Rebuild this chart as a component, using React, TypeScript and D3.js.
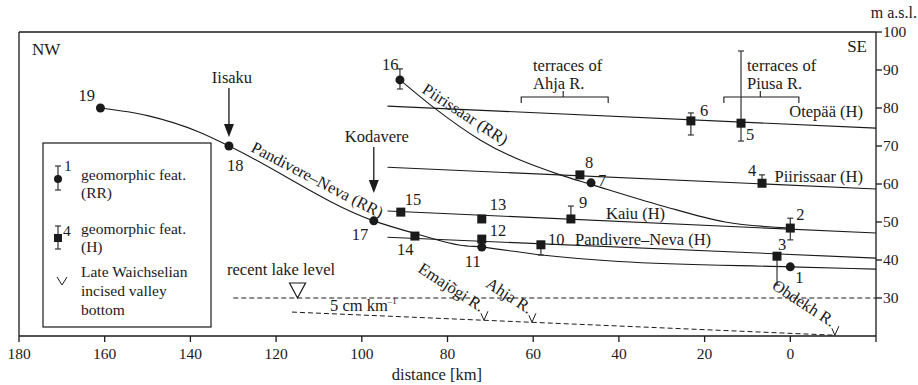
import React from "react";
import { scaleLinear, line, curveMonotoneX } from "d3";

// relict river profiles (RR): circles
const rrIds = [19, 18, 17, 16, 11, 7, 1];
const rrKm = [161, 131, 97.2, 91.1, 72, 46.5, 0];
const rrAlt = [80, 70, 50.3, 87.4, 43.4, 60.3, 38.2];
const rrErr: ([number, number] | null)[] = [null, null, null, [85, 90.3], null, null, null];

// shorelines (H): squares
const hIds = [15, 14, 13, 12, 10, 9, 8, 6, 5, 4, 3, 2];
const hKm = [90.9, 87.6, 72, 72, 58.2, 51.2, 49.1, 23.2, 11.5, 6.6, 3.1, 0];
const hAlt = [52.6, 46.3, 50.8, 45.5, 44, 50.8, 62.4, 76.6, 76, 60.2, 41, 48.4];
const hErr: ([number, number] | null)[] = [
  null, null, null, null, [41.3, 44], [50.8, 54.2], null,
  [72.9, 78.7], [71.3, 95], [60.2, 62.4], [33.4, 41], [45.3, 51],
];

// straight shoreline lines, from 94 km to -20 km
const hLineNames = ["Otepää (H)", "Piirissaar (H)", "Kaiu (H)", "Pandivere–Neva (H)"];
const hLineStart = [80.5, 64.4, 52.9, 46];
const hLineEnd = [74.7, 58.7, 47.1, 40.5];

// RR curves
const pnRR: [number, number][] = [
  [161, 80], [150, 78], [138, 73.7], [131, 70], [97.2, 50.3], [87, 46.8],
  [77, 43.9], [72, 43.4], [58, 41.3], [40, 39.6], [0, 38.2], [-20, 37.6],
];
const piRR: [number, number][] = [
  [91.1, 87.4], [83.4, 80.3], [72.4, 71.6], [53.7, 62.4], [46.5, 59.9],
  [30, 54.3], [15.2, 50], [0, 48.4],
];

const lakeLevel = 30;
const lakeFrom = 130;
const valley: [number, number][] = [[116.3, 26.3], [-10.4, 20.2]];
const rivers = ["Emajõgi R.", "Ahja R.", "Obdekh R."];
const riverKm = [71.5, 60.3, -10.4];

const xTicks = [180, 160, 140, 120, 100, 80, 60, 40, 20, 0];
const yTicks = [30, 40, 50, 60, 70, 80, 90, 100];

const W = 918;
const H = 385;
const x = scaleLinear().domain([180, -20]).range([19, 876]);
const y = scaleLinear().domain([20, 100]).range([336, 32]);

const ink = "#1a1a1a";
const fs = 16.5;
const lfs = 15.5;

// number label offsets (px) relative to the marker
const labelOff: Record<number, [number, number]> = {
  19: [-22, -7], 18: [-2, 25], 17: [-22, 19], 16: [-18, -10], 11: [-17, 20],
  7: [7, 3], 1: [5, 16], 15: [4, -7], 14: [-18, 19], 13: [8, -9], 12: [8, -3],
  10: [7, 0], 9: [8, -11], 8: [5, -7], 6: [9, -5], 5: [5, 17], 4: [-14, -7],
  3: [1, -6], 2: [6, -8],
};

function valleyAt(km: number) {
  const [a, b] = valley;
  return a[1] + ((km - a[0]) * (b[1] - a[1])) / (b[0] - a[0]);
}

function ErrBar({ cx, lo, hi }: { cx: number; lo: number; hi: number }) {
  return (
    <g stroke="#333" strokeWidth={1.2}>
      <line x1={cx} x2={cx} y1={y(lo)} y2={y(hi)} />
      <line x1={cx - 3} x2={cx + 3} y1={y(lo)} y2={y(lo)} />
      <line x1={cx - 3} x2={cx + 3} y1={y(hi)} y2={y(hi)} />
    </g>
  );
}

function Arrow({ px, y1, y2 }: { px: number; y1: number; y2: number }) {
  return (
    <g>
      <line x1={px} x2={px} y1={y1} y2={y2 - 10} stroke={ink} strokeWidth={1.3} />
      <path d={`M${px - 5},${y2 - 13} L${px + 5},${y2 - 13} L${px},${y2} Z`} fill={ink} />
    </g>
  );
}

export default function App() {
  const curve = line<[number, number]>()
    .x((d) => x(d[0]))
    .y((d) => y(d[1]))
    .curve(curveMonotoneX);

  const brackets = [
    { a: 62.8, b: 42.5, mid: 53, tx: 533, l1: "terraces of", l2: "Ahja R." },
    { a: 15.5, b: -2, mid: 7, tx: 747, l1: "terraces of", l2: "Piusa R." },
  ];

  return (
    <svg
      width={W}
      height={H}
      style={{ position: "absolute", left: 0, top: 0, background: "#fff" }}
      fill={ink}
    >
      <style>{`text { font-family: "Liberation Serif", "Times New Roman", serif; }`}</style>
      {/* frame and axes */}
      <g stroke={ink} strokeWidth={1.3} fill="none">
        <line x1={x(180)} x2={x(-20)} y1={y(100)} y2={y(100)} />
        <line x1={x(180)} x2={x(180)} y1={y(100)} y2={y(20)} />
        <line x1={x(180)} x2={x(-20)} y1={y(20)} y2={y(20)} />
        <line x1={x(-20)} x2={x(-20)} y1={y(100)} y2={y(20) + 6} />
        {xTicks.map((t) => (
          <line key={t} x1={x(t)} x2={x(t)} y1={y(20)} y2={y(20) + 6} />
        ))}
        {yTicks.map((t) => (
          <line key={t} x1={x(-20)} x2={x(-20) + 6} y1={y(t)} y2={y(t)} />
        ))}
      </g>
      {xTicks.map((t) => (
        <text key={t} x={x(t)} y={359} fontSize={15.5} textAnchor="middle">
          {t}
        </text>
      ))}
      {yTicks.map((t) => (
        <text key={t} x={x(-20) + 7} y={y(t) + 5} fontSize={15.5}>
          {t}
        </text>
      ))}
      <text x={437} y={380} fontSize={fs} textAnchor="middle">distance [km]</text>
      <text x={917} y={18} fontSize={16} textAnchor="end">m a.s.l.</text>
      <text x={32} y={55} fontSize={17}>NW</text>
      <text x={867} y={52} fontSize={17} textAnchor="end">SE</text>

      {/* shoreline lines */}
      {hLineNames.map((n, i) => (
        <line
          key={n}
          x1={x(94)}
          x2={x(-20)}
          y1={y(hLineStart[i])}
          y2={y(hLineEnd[i])}
          stroke={ink}
          strokeWidth={1.1}
        />
      ))}
      <text x={863} y={117} fontSize={fs} textAnchor="end">Otepää (H)</text>
      <text x={863} y={182} fontSize={fs} textAnchor="end">Piirissaar (H)</text>
      <text x={606} y={219} fontSize={fs}>Kaiu (H)</text>
      <text x={575} y={245} fontSize={fs}>Pandivere–Neva (H)</text>

      {/* RR curves */}
      <path d={curve(pnRR) || ""} fill="none" stroke={ink} strokeWidth={1.1} />
      <path d={curve(piRR) || ""} fill="none" stroke={ink} strokeWidth={1.1} />
      <text fontSize={fs} transform={`translate(250,151) rotate(27.5)`}>
        Pandivere–Neva (RR)
      </text>
      <text fontSize={fs} transform={`translate(421,92) rotate(33)`}>
        Piirissaar (RR)
      </text>

      {/* lake level and valley bottom */}
      <line
        x1={x(lakeFrom)}
        x2={x(-20)}
        y1={y(lakeLevel)}
        y2={y(lakeLevel)}
        stroke={ink}
        strokeWidth={1}
        strokeDasharray="5,3"
      />
      <path
        d={`M${x(115) - 8},${y(lakeLevel) - 15} L${x(115) + 8},${y(lakeLevel) - 15} L${x(115)},${y(lakeLevel)} Z`}
        fill="none"
        stroke={ink}
        strokeWidth={1.2}
      />
      <text x={227} y={275} fontSize={fs}>recent lake level</text>
      <line
        x1={x(valley[0][0])}
        x2={x(valley[1][0])}
        y1={y(valley[0][1])}
        y2={y(valley[1][1])}
        stroke={ink}
        strokeWidth={1}
        strokeDasharray="5,3"
      />
      <text x={330} y={311} fontSize={fs}>
        5 cm km
        <tspan fontSize={9} dy={-7}>–1</tspan>
      </text>
      {rivers.map((r, i) => {
        const tx = x(riverKm[i]);
        const ty = y(valleyAt(riverKm[i]));
        return (
          <g key={r}>
            <path
              d={`M${tx - 3},${ty - 7} L${tx},${ty} L${tx + 4},${ty - 9}`}
              fill="none"
              stroke={ink}
              strokeWidth={1}
            />
            <text
              fontSize={fs}
              textAnchor="end"
              transform={`translate(${tx - 4},${ty - 8}) rotate(33)`}
            >
              {r}
            </text>
          </g>
        );
      })}

      {/* brackets */}
      {brackets.map((b) => (
        <g key={b.l2}>
          <path
            d={`M${x(b.a)},${y(82.9) + 6} L${x(b.a)},${y(82.9)} L${x(b.b)},${y(82.9)} L${x(b.b)},${y(82.9) + 6} M${x(b.mid)},${y(82.9)} L${x(b.mid)},${y(82.9) - 6}`}
            fill="none"
            stroke={ink}
            strokeWidth={1.1}
          />
          <text x={b.tx} y={71} fontSize={fs}>{b.l1}</text>
          <text x={b.tx} y={89} fontSize={fs}>{b.l2}</text>
        </g>
      ))}

      {/* arrows */}
      <Arrow px={x(131)} y1={88} y2={137} />
      <text x={x(131) + 3} y={83} fontSize={fs} textAnchor="middle">Iisaku</text>
      <Arrow px={x(97.2)} y1={147} y2={193} />
      <text x={x(97.2) + 3} y={142} fontSize={fs} textAnchor="middle">Kodavere</text>

      {/* error bars */}
      {rrErr.map((e, i) => e && <ErrBar key={"re" + i} cx={x(rrKm[i])} lo={e[0]} hi={e[1]} />)}
      {hErr.map((e, i) => e && <ErrBar key={"he" + i} cx={x(hKm[i])} lo={e[0]} hi={e[1]} />)}

      {/* markers */}
      {rrIds.map((id, i) => (
        <g key={"r" + id}>
          <circle cx={x(rrKm[i])} cy={y(rrAlt[i])} r={4.5} fill={ink} />
          <text
            x={x(rrKm[i]) + labelOff[id][0]}
            y={y(rrAlt[i]) + labelOff[id][1]}
            fontSize={fs}
          >
            {id}
          </text>
        </g>
      ))}
      {hIds.map((id, i) => (
        <g key={"h" + id}>
          <rect x={x(hKm[i]) - 4.5} y={y(hAlt[i]) - 4.5} width={9} height={9} fill={ink} />
          <text
            x={x(hKm[i]) + labelOff[id][0]}
            y={y(hAlt[i]) + labelOff[id][1]}
            fontSize={fs}
          >
            {id}
          </text>
        </g>
      ))}

      {/* legend */}
      <rect x={43} y={143} width={168} height={184} fill="#fff" stroke={ink} strokeWidth={1.2} />
      <g stroke="#333" strokeWidth={1.2}>
        <line x1={58} x2={58} y1={166} y2={190} />
        <line x1={55} x2={61} y1={166} y2={166} />
        <line x1={55} x2={61} y1={190} y2={190} />
        <line x1={58} x2={58} y1={226} y2={249} />
        <line x1={55} x2={61} y1={226} y2={226} />
        <line x1={55} x2={61} y1={249} y2={249} />
      </g>
      <circle cx={58} cy={179} r={4} fill={ink} />
      <rect x={54} y={234} width={8} height={8} fill={ink} />
      <path d="M57,277 L62,285 L67,277" fill="none" stroke={ink} strokeWidth={1} />
      <text x={64} y={171} fontSize={lfs}>1</text>
      <text x={63} y={236} fontSize={lfs}>4</text>
      <text x={81} y={180} fontSize={lfs}>geomorphic feat.</text>
      <text x={81} y={198} fontSize={lfs}>(RR)</text>
      <text x={81} y={234} fontSize={lfs}>geomorphic feat.</text>
      <text x={81} y={252} fontSize={lfs}>(H)</text>
      <text x={81} y={277} fontSize={lfs}>Late Waichselian</text>
      <text x={81} y={296} fontSize={lfs}>incised valley</text>
      <text x={81} y={315} fontSize={lfs}>bottom</text>
    </svg>
  );
}
